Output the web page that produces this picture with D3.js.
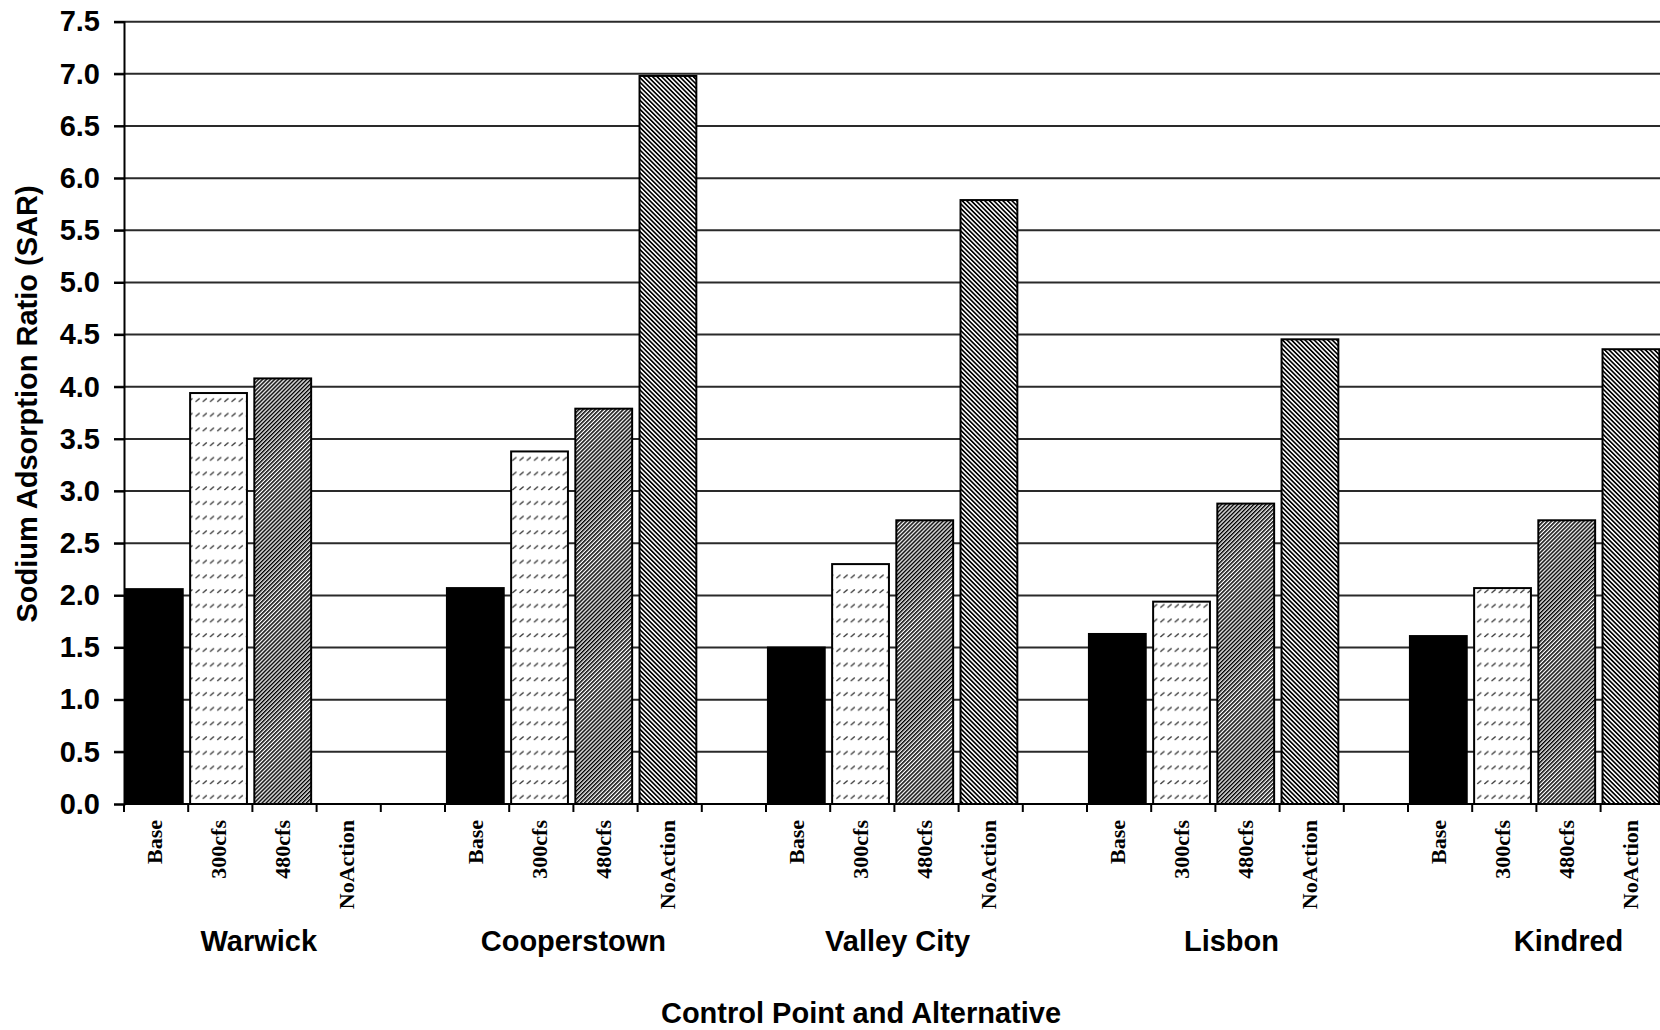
<!DOCTYPE html>
<html>
<head>
<meta charset="utf-8">
<script src="https://cdn.jsdelivr.net/npm/d3@7/dist/d3.min.js"></script>
<style>
  html, body { margin: 0; padding: 0; background: #fff; }
  svg { display: block; }
</style>
</head>
<body>
<svg id="chart" width="1660" height="1030"></svg>
<script>
// ---------------- data ----------------
const sites = ["Warwick", "Cooperstown", "Valley City", "Lisbon", "Kindred"];
const alternatives = ["Base", "300cfs", "480cfs", "NoAction"];
const baseValues     = [2.06, 2.07, 1.50, 1.63, 1.61];
const cfs300Values   = [3.94, 3.38, 2.30, 1.94, 2.07];
const cfs480Values   = [4.08, 3.79, 2.72, 2.88, 2.72];
const noActionValues = [null, 6.98, 5.79, 4.455, 4.36];
const yTickValues = [0.0, 0.5, 1.0, 1.5, 2.0, 2.5, 3.0, 3.5, 4.0, 4.5, 5.0, 5.5, 6.0, 6.5, 7.0, 7.5];
const yTitle = "Sodium Adsorption Ratio (SAR)";
const xTitle = "Control Point and Alternative";

// ---------------- build categories ----------------
const seriesBySite = [baseValues, cfs300Values, cfs480Values, noActionValues];
const cats = [];
sites.forEach((s, si) => {
  alternatives.forEach((a, ai) => {
    cats.push({ id: s + "|" + a, site: s, alt: a, altIndex: ai, value: seriesBySite[ai][si] });
  });
  if (si < sites.length - 1) cats.push({ id: s + "|gap", site: s, alt: null, value: null });
});

// ---------------- layout ----------------
const svg = d3.select("#chart");
const plotLeft = 124, catStep = 64.2, plotTop = 21.7, plotBottom = 804;
const plotRight = plotLeft + cats.length * catStep;

const x = d3.scaleBand().domain(cats.map(d => d.id)).range([plotLeft, plotRight]).padding(0);
const y = d3.scaleLinear().domain([0, 7.5]).range([plotBottom, plotTop]);

// group label anchors in category units (as placed in the original)
const groupLabelAt = [2.1, 7.0, 12.05, 17.25, 22.5];
const catUnit = d3.scaleLinear().domain([0, cats.length]).range([plotLeft, plotRight]);

// ---------------- patterns ----------------
const defs = svg.append("defs");
const p300 = defs.append("pattern").attr("id", "p300").attr("patternUnits", "userSpaceOnUse")
  .attr("width", 7.2).attr("height", 14.7);
p300.append("rect").attr("width", 7.2).attr("height", 14.7).attr("fill", "#fff");
p300.append("line").attr("x1", 1.2).attr("y1", 5).attr("x2", 5.2).attr("y2", 1.5)
  .attr("stroke", "#3a3a3a").attr("stroke-width", 1.3);

function stripes(id, period, w, angle) {
  const p = defs.append("pattern").attr("id", id).attr("patternUnits", "userSpaceOnUse")
    .attr("width", period).attr("height", period)
    .attr("patternTransform", `rotate(${angle})`);
  p.append("rect").attr("width", period).attr("height", period).attr("fill", "#fff");
  p.append("rect").attr("width", w).attr("height", period).attr("fill", "#000");
}
stripes("p480", 2.85, 1.5, 45);
stripes("pNo", 3.2, 1.65, -45);

const fills = ["#000", "url(#p300)", "url(#p480)", "url(#pNo)"];

// ---------------- gridlines ----------------
svg.append("g").selectAll("line").data(yTickValues.filter(v => v > 0)).join("line")
  .attr("x1", plotLeft - 10).attr("x2", 1660)
  .attr("y1", d => y(d)).attr("y2", d => y(d))
  .attr("stroke", "#2a2a2a").attr("stroke-width", 2);

// ---------------- bars ----------------
const bw = x.bandwidth();
svg.append("g").selectAll("rect").data(cats.filter(d => d.value != null && d.value > 0)).join("rect")
  .attr("x", d => x(d.id) + bw * 0.03)
  .attr("width", bw * 0.885)
  .attr("y", d => y(d.value))
  .attr("height", d => y(0) - y(d.value))
  .attr("fill", d => fills[d.altIndex])
  .attr("stroke", "#000").attr("stroke-width", 2);

// ---------------- axes ----------------
const yAxis = d3.axisLeft(y).tickValues(yTickValues).tickFormat(d3.format(".1f")).tickSize(10).tickPadding(14);
const gy = svg.append("g").attr("transform", `translate(${plotLeft},0)`).call(yAxis);
gy.select(".domain").attr("stroke", "#000").attr("stroke-width", 2);
gy.selectAll(".tick line").attr("stroke", "#000").attr("stroke-width", 2);
gy.selectAll(".tick text")
  .attr("font-family", "'Liberation Sans', Arial, sans-serif")
  .attr("font-weight", "bold").attr("font-size", 29).attr("fill", "#000");

// x axis baseline and ticks at category boundaries
svg.append("line").attr("x1", plotLeft).attr("x2", 1660).attr("y1", plotBottom).attr("y2", plotBottom)
  .attr("stroke", "#000").attr("stroke-width", 2);
svg.append("g").selectAll("line").data(d3.range(cats.length + 1)).join("line")
  .attr("x1", d => catUnit(d)).attr("x2", d => catUnit(d))
  .attr("y1", plotBottom).attr("y2", plotBottom + 8)
  .attr("stroke", "#000").attr("stroke-width", 2);

// rotated alternative labels
svg.append("g").selectAll("text").data(cats.filter(d => d.alt)).join("text")
  .attr("transform", d => `translate(${x(d.id) + bw / 2},820) rotate(-90)`)
  .attr("text-anchor", "end")
  .attr("dy", "0.25em")
  .attr("font-family", "'Liberation Serif', 'Times New Roman', serif")
  .attr("font-weight", "bold").attr("font-size", 22).attr("fill", "#000")
  .text(d => d.alt);

// site labels
svg.append("g").selectAll("text").data(sites).join("text")
  .attr("x", (d, i) => catUnit(groupLabelAt[i]))
  .attr("y", 951)
  .attr("text-anchor", "middle")
  .attr("font-family", "'Liberation Sans', Arial, sans-serif")
  .attr("font-weight", "bold").attr("font-size", 29).attr("fill", "#000")
  .text(d => d);

// axis titles
svg.append("text")
  .attr("x", 861).attr("y", 1023)
  .attr("text-anchor", "middle")
  .attr("font-family", "'Liberation Sans', Arial, sans-serif")
  .attr("font-weight", "bold").attr("font-size", 29).attr("fill", "#000")
  .text(xTitle);

svg.append("text")
  .attr("transform", "translate(36.5,404) rotate(-90)")
  .attr("text-anchor", "middle")
  .attr("font-family", "'Liberation Sans', Arial, sans-serif")
  .attr("font-weight", "bold").attr("font-size", 29).attr("fill", "#000")
  .text(yTitle);
</script>
</body>
</html>
